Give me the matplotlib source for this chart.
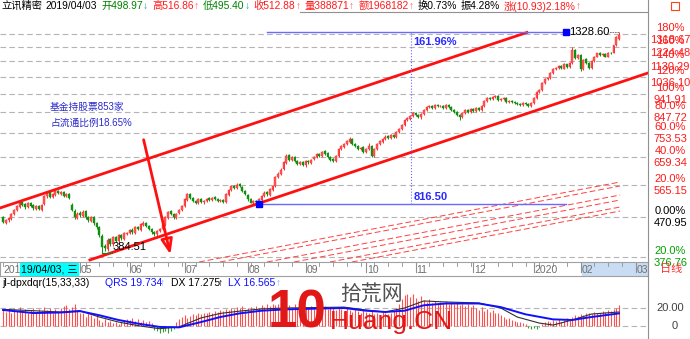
import numpy as np
import matplotlib
matplotlib.use('Agg')
import matplotlib.pyplot as plt

plt.rcParams['font.family'] = ['Liberation Sans', 'Noto Sans CJK SC', 'DejaVu Sans']

# daily candles, 2019-03 .. 2020-02 (index = trading day)
opens = [
    470, 456, 462, 466, 478, 491, 498.97, 511, 506, 497,
    509, 503, 494, 501, 491, 506, 529, 541, 527, 534,
    546, 537, 543, 529, 536, 505, 488, 468, 482, 474,
    486, 471, 461, 471, 456, 446, 424, 400, 393, 416,
    404, 421, 411, 426, 417, 429, 431, 439, 431, 446,
    439, 451, 456, 447, 441, 433, 427, 436, 441, 451,
    469, 486, 479, 469, 481, 489, 501, 519, 536, 524,
    516, 509, 521, 511, 514, 523, 517, 526, 521, 514,
    519, 513, 534, 549, 561, 554, 566, 559, 546, 534,
    521, 509, 514, 511, 519, 529, 541, 534, 549, 561,
    589, 601, 616, 639, 666, 649, 661, 646, 634, 641,
    629, 646, 639, 651, 659, 671, 664, 681, 673, 661,
    651, 644, 664, 691, 699, 711, 719, 731, 711, 701,
    689, 696, 679, 689, 701, 664, 689, 711, 719, 731,
    741, 734, 746, 739, 759, 771, 789, 811, 819, 831,
    846, 836, 824, 839, 859, 874, 881, 869, 886, 879,
    881, 869, 886, 876, 861, 851, 836, 826, 844, 861,
    849, 866, 854, 871, 859, 879, 904, 921, 914, 924,
    931, 909, 914, 921, 899, 906, 901, 896, 891, 884,
    896, 891, 879, 894, 919, 951, 959, 999, 1021, 1029,
    1059, 1079, 1089, 1101, 1084, 1111, 1094, 1119, 1201, 1149,
    1169, 1079, 1141, 1121, 1089, 1129, 1159, 1181, 1169, 1176,
    1159, 1186, 1185, 1240, 1280]
closes = [
    458, 463, 468, 478, 490, 500, 512.88, 505, 498, 510,
    502, 495, 500, 492, 505, 530, 540, 528, 535, 545,
    538, 542, 530, 535, 525, 490, 470, 480, 475, 485,
    470, 462, 470, 455, 445, 425, 398, 395, 415, 405,
    420, 412, 425, 418, 430, 430, 438, 432, 445, 440,
    452, 455, 448, 440, 432, 428, 435, 440, 450, 470,
    485, 478, 470, 480, 490, 500, 520, 535, 525, 515,
    510, 520, 512, 515, 522, 518, 525, 520, 515, 518,
    512, 535, 548, 560, 555, 565, 560, 545, 535, 520,
    510, 515, 512, 520, 530, 540, 535, 550, 560, 590,
    600, 615, 640, 665, 650, 660, 645, 635, 640, 630,
    645, 640, 650, 660, 670, 665, 680, 672, 660, 650,
    645, 665, 690, 700, 710, 720, 730, 710, 700, 690,
    695, 680, 690, 700, 665, 690, 710, 720, 730, 740,
    735, 745, 740, 760, 770, 790, 810, 820, 830, 845,
    835, 825, 840, 860, 875, 880, 870, 885, 880, 880,
    870, 885, 875, 860, 850, 835, 825, 845, 860, 850,
    865, 855, 870, 860, 880, 905, 920, 915, 925, 930,
    910, 915, 920, 900, 905, 900, 895, 890, 885, 895,
    890, 880, 895, 920, 950, 960, 1000, 1020, 1030, 1060,
    1080, 1090, 1100, 1085, 1110, 1095, 1120, 1200, 1150, 1170,
    1080, 1140, 1120, 1090, 1130, 1160, 1180, 1170, 1175, 1160,
    1185, 1180, 1235, 1295, 1310]
highs = [
    474, 466, 471, 481, 493, 504, 516.86, 515, 509, 513,
    512, 506, 503, 504, 508, 533, 545, 544, 538, 549,
    549, 546, 546, 538, 539, 510, 492, 484, 486, 489,
    489, 474, 473, 474, 459, 449, 427, 405, 418, 419,
    423, 424, 428, 429, 433, 434, 441, 442, 448, 449,
    455, 460, 459, 450, 444, 436, 438, 443, 453, 473,
    488, 490, 482, 483, 493, 503, 523, 540, 539, 527,
    519, 523, 524, 518, 525, 526, 528, 529, 524, 521,
    522, 538, 551, 564, 565, 569, 570, 562, 549, 537,
    524, 519, 517, 523, 533, 544, 545, 553, 564, 594,
    605, 620, 644, 670, 671, 664, 665, 649, 644, 645,
    649, 650, 654, 664, 674, 676, 684, 685, 677, 664,
    655, 668, 694, 705, 715, 725, 737, 734, 715, 705,
    699, 700, 694, 712, 704, 694, 714, 724, 734, 745,
    745, 749, 750, 764, 775, 795, 815, 826, 836, 850,
    851, 840, 845, 865, 880, 886, 886, 890, 890, 885,
    886, 890, 890, 880, 865, 855, 840, 850, 865, 865,
    870, 870, 875, 876, 885, 910, 925, 926, 930, 936,
    936, 920, 925, 926, 910, 911, 906, 900, 896, 900,
    901, 896, 900, 925, 955, 966, 1005, 1026, 1036, 1066,
    1086, 1096, 1106, 1108, 1116, 1115, 1126, 1225, 1210, 1176,
    1175, 1146, 1150, 1126, 1136, 1166, 1186, 1188, 1180, 1182,
    1190, 1192, 1240, 1300, 1328.60]
lows = [
    455, 452, 459, 464, 475, 488, 495.40, 501, 494, 495,
    499, 491, 491, 489, 488, 503, 525, 524, 523, 531,
    535, 534, 526, 526, 522, 486, 466, 465, 471, 471,
    467, 458, 458, 451, 441, 421, 384.51, 390, 390, 401,
    401, 409, 408, 415, 414, 425, 428, 429, 428, 437,
    436, 448, 445, 437, 429, 424, 424, 433, 438, 449,
    466, 475, 467, 466, 478, 487, 499, 516, 522, 512,
    507, 506, 509, 508, 511, 515, 514, 517, 512, 511,
    509, 510, 531, 546, 551, 551, 557, 542, 532, 516,
    509, 508, 509, 507.27, 516, 526, 531, 531, 546, 558,
    585, 597, 612, 635, 646, 645, 641, 631, 630, 626,
    625, 636, 635, 647, 655, 661, 660, 668, 656, 646,
    640, 640, 660, 686, 695, 707, 715, 706, 696, 686,
    685, 676, 675, 685, 658, 660, 685, 706, 715, 726,
    730, 730, 735, 735, 755, 767, 785, 806, 814, 826,
    830, 820, 819, 835, 855, 869, 865, 865, 875, 874,
    865, 864, 870, 855, 845, 830, 812, 820, 840, 845,
    845, 850, 850, 855, 855, 875, 900, 910, 910, 920,
    905, 905, 910, 895, 894, 895, 890, 885, 878, 880,
    885, 875, 874, 890, 915, 945, 955, 995, 1015, 1024,
    1054, 1074, 1084, 1080, 1079, 1090, 1089, 1115, 1145, 1144,
    1070, 1075, 1115, 1080, 1084, 1124, 1154, 1164, 1162, 1155,
    1154, 1175, 1180, 1230, 1275]

# right axis ticks: percent vs base price, and price
base_price = 470.95
tick_prices = [1318.67, 1224.48, 1130.29, 1036.10, 941.91, 847.72, 753.53, 659.34, 565.15, 470.95, 376.76]
tick_pcts = ['180%', '160%', '140%', '120%', '100%', '80.0%', '60.0%', '40.0%', '20.0%', '0.00%', '20.0%']

month_idx = [28, 46, 66, 89, 110, 132, 150, 171, 193, 210, 230]
month_lbl = ['05', '06', '07', '08', '09', '10', '11', '12', '2020', '02', '03']

# indicator jl-dpxdqr
bars = [
    18, 16, 20, 14, 19, 17, 21, 17, 19, 15,
    18, 20, 16, 19, 17, 21, 18, 20, 15, 19,
    17, 20, 22, 23, 19, 21, 24, 18, 15, 14,
    10, 16, 12, 9, 13, 7, 5, 8, 4, 6,
    3, 5, 2, 4, 6, 8, 7, 9, 6, 8,
    5, 7, 4, 6, 3, -4, -6, -8, -7, -5,
    -8, -6, -3, 5, 8, 10, 12, 9, 11, 13,
    12, 14, 13, 15, 14, 16, 15, 17, 16, 18,
    17, 19, 18, 20, 19, 21, 20, 22, 18, 20,
    21, 19, 22, 20, 23, 21, 24, 22, 25, 23,
    24, 26, 22, 25, 23, 21, 24, 20, 22, 19,
    21, 20, 22, 19, 21, 18, 20, 22, 19, 21,
    20, 18, 21, 19, 17, 20, 18, 16, 19, 17,
    15, 18, 16, 14, 17, 13, 15, 12, 16, 14,
    13, 15, 17, 20, 25, 30, 34, 36, 32, 35,
    31, 28, 33, 29, 27, 30, 26, 28, 25, 27,
    26, 28, 24, 27, 25, 26, 23, 25, 22, 24,
    21, 23, 20, 18, 21, 17, 19, 16, 18, 15,
    14, 12, 10, 8, 9, 7, 6, 4, 5, 3,
    2, -2, -3, -2, -3, -1, 2, 4, 6, 5,
    7, 6, 8, 5, 7, 9, 8, 10, 12, 11,
    13, 12, 14, 15, 13, 16, 14, 15, 17, 16,
    18, 17, 19, 20, 23]
qrs_idx = [0, 11, 21, 28, 35, 42, 50, 57, 64, 72, 79, 86, 94, 103, 124, 132, 139, 146, 153, 161, 173, 181, 190, 200, 207, 214, 224]
qrs = [17.8, 14.4, 15.0, 16.5, 12.0, 6.7, 2.2, -1.0, -1.5, 4.4, 10.0, 14.0, 17.0, 18.5, 20.0, 17.0, 15.6, 17.0, 23.0, 25.0, 25.0, 21.0, 13.0, 7.4, 6.7, 10.0, 14.0]
dx_idx = [0, 11, 21, 28, 35, 42, 50, 57, 64, 72, 79, 86, 94, 103, 124, 132, 139, 146, 153, 161, 173, 181, 187, 195, 200, 207, 214, 224]
dx = [18.5, 17.0, 15.5, 17.0, 10.0, 4.4, 0.0, -3.0, -1.0, 9.0, 14.0, 16.5, 19.0, 20.0, 21.0, 17.8, 15.6, 20.0, 27.8, 26.7, 25.6, 20.0, 10.0, 3.3, 1.1, 6.7, 13.3, 15.6]

# drawn trend lines (day index, price)
upper_chan = [(-1.1, 495.4), (190.5, 1327.7)]
lower_chan = [(31.6, 370.0), (234.5, 1057.4)]
thin_chan = [[(71.3, 365.8), (224.4, 573.3)], [(78.9, 365.8), (224.4, 560.6)],
             [(96.0, 365.8), (224.4, 532.9)], [(105.8, 365.8), (224.4, 518.1)],
             [(118.9, 365.8), (224.4, 498.2)], [(126.9, 365.8), (224.4, 487.1)]]

W, H = 690, 339
def rect(x0, y0, x1, y1):
    return [x0 / W, 1 - y1 / H, (x1 - x0) / W, (y1 - y0) / H]

XL = (-3 / 2.75, 645 / 2.75)
fig = plt.figure(figsize=(6.9, 3.39), dpi=100)
renderer = fig.canvas.get_renderer()

# ---------- main price panel ----------
ax = fig.add_axes(rect(0, 14, 648, 262))
ax.set_yscale('log')
ax.set_xlim(*XL)
ax.set_ylim(365.8, 1473)
ax.yaxis.set_major_locator(plt.NullLocator())
ax.yaxis.set_minor_locator(plt.NullLocator())
ax.set_xticks([])
for s in ax.spines.values():
    s.set_visible(False)

for p in tick_prices:
    ax.axhline(p, color='#b4b4b4', lw=0.8, ls=(0, (5, 3)), zorder=0)

o, c, hi, lo = map(np.array, (opens, closes, highs, lows))
x = np.arange(len(c))
up = c >= o
ax.vlines(x[up], lo[up], hi[up], color='#ff3030', lw=0.7, zorder=2)
ax.vlines(x[~up], lo[~up], hi[~up], color='#109010', lw=0.7, zorder=2)
ax.bar(x[up], c[up] - o[up], bottom=o[up], width=0.6, color='#ff5a5a', edgecolor='#ff2a2a', lw=0.3, zorder=3)
ax.bar(x[~up], o[~up] - c[~up], bottom=c[~up], width=0.6, color='#109010', edgecolor='#109010', lw=0.3, zorder=3)

for ln in (upper_chan, lower_chan):
    ax.plot([p[0] for p in ln], [p[1] for p in ln], color='#ff1010', lw=2, zorder=4)
for ln in thin_chan:
    ax.plot([p[0] for p in ln], [p[1] for p in ln], color='#ff4040', lw=0.7, ls=(0, (6, 3)), zorder=1)

# red arrow
ax.annotate('', xy=(61.1, 376), xytext=(50.9, 738),
            arrowprops=dict(arrowstyle='-|>,head_length=0.9,head_width=0.35', color='#ff1010', lw=2, fill=False),
            zorder=5)

# measurement: low 507.27 -> high 1328.60
i_lo = lows.index(507.27)
ax.plot([i_lo, 204.7], [507.27, 507.27], color='#6a6aff', lw=1, zorder=5)
ax.plot([96, 204.7], [1328.60, 1328.60], color='#6a6aff', lw=1, zorder=5)
ax.plot([148.4, 148.4], [507.27, 1328.60], color='#6a6aff', lw=0.8, ls=':', zorder=5)
ax.plot([i_lo], [507.27], 's', color='#0000ff', ms=4, zorder=6)
ax.plot([204.7], [1328.60], 's', color='#0000ff', ms=4, zorder=6)
ax.text(149.2, 1328.60 * 0.975, '161.96%', color='#2a2aff', fontsize=8, fontweight='bold', va='top', ha='left', zorder=6)
ax.text(149.2, 507.27 * 1.01, '816.50', color='#2a2aff', fontsize=8, fontweight='bold', va='bottom', ha='left', zorder=6)
ax.text(206, 1328.60, '1328.60', color='black', fontsize=8, va='center', ha='left', zorder=6)
ax.plot([219.5, 222.5, 224], [1328.60, 1328.60, 1328.60], color='#606060', lw=0.6, ls=(0, (2, 1)), zorder=6)

# low marker
i_min = lows.index(384.51)
ax.plot([i_min, i_min + 3.8], [384.51, 384.51], color='#208020', lw=0.8, zorder=6)
ax.text(i_min + 4, 384.51 * 1.005, '384.51', color='black', fontsize=8, va='bottom', ha='left', zorder=6)

fig.text(50 / W, 1 - 107 / H, '基金持股票853家', color='#2a2acc', fontsize=7, va='center', ha='left')
fig.text(50 / W, 1 - 123 / H, '占流通比例18.65%', color='#2a2acc', fontsize=7, va='center', ha='left')

# right labels
for p, pct in zip(tick_prices, tick_pcts):
    col = 'black' if p == base_price else ('#00a000' if p < base_price else '#ff1a1a')
    ax.annotate(pct, xy=(1.0, p), xycoords=('axes fraction', 'data'), xytext=(16, 4.3),
                textcoords='offset points', ha='center', va='center', fontsize=8, color=col, annotation_clip=False)
    ax.annotate(f'{p:.2f}', xy=(1.0, p), xycoords=('axes fraction', 'data'), xytext=(16, -4.3),
                textcoords='offset points', ha='center', va='center', fontsize=8, color=col, annotation_clip=False)

# ---------- title bar (pieces chained left to right) ----------
title_groups = [
    [('立讯精密', 'black')],
    [('2019/04/03', 'black')],
    [('开498.97', '#008000'), ('↓', '#20a0a0')],
    [('高516.86', '#ff1a1a'), ('↑', '#ff6060')],
    [('低495.40', '#008000'), ('↓', '#20a0a0')],
    [('收512.88', '#ff1a1a'), ('↑', '#ff6060')],
    [('量388871', '#ff1a1a'), ('↑', '#ff6060')],
    [('额1968182', '#ff1a1a'), ('↑', '#ff6060')],
    [('换0.73%', 'black')],
    [('振4.28%', 'black')],
    [('涨(10.93)2.18%', '#ff1a1a'), ('↑', '#ff6060')],
]
cur = 1
for parts in title_groups:
    for t, col in parts:
        tx = fig.text(cur / W, 1 - 6 / H, t, color=col, fontsize=7.4, va='center', ha='left')
        cur = tx.get_window_extent(renderer).x1
    cur += 4
fig.add_artist(plt.Line2D([300 / W, 648 / W], [1 - 12 / H, 1 - 12 / H], color='#909090', lw=0.8))
fig.add_artist(plt.Rectangle((671 / W, 1 - 10 / H), 8 / W, 8 / H, fill=False, edgecolor='#ff4020', lw=0.8))

# ---------- date strip ----------
axd = fig.add_axes(rect(0, 262, 648, 276))
axd.set_xlim(*XL)
axd.set_ylim(0, 1)
axd.set_xticks([])
axd.set_yticks([])
for s in axd.spines.values():
    s.set_color('#a0a0a0')
    s.set_linewidth(0.8)
axd.axvspan(210.5, XL[1], color='#c8dcf4', zorder=0)
for k in range(0, 235, 5):
    axd.plot([k, k], [1, 0.75], color='#909090', lw=0.6)
for mi, ml in zip(month_idx, month_lbl):
    axd.plot([mi, mi], [1, 0.3], color='#909090', lw=0.8)
    axd.text(mi + 0.4, 0.42, ml, color='#707070', fontsize=7.5, va='center', ha='left')
axd.text(0, 0.42, '2019', color='#707070', fontsize=7.5, va='center', ha='left')
fig.add_artist(plt.Rectangle((20 / W, 1 - 275 / H), 58 / W, 12 / H, color='#00ffff', zorder=5))
fig.text(21 / W, 1 - 269 / H, '19/04/03, 三', color='black', fontsize=7.5, va='center', ha='left', zorder=6)
fig.text(660 / W, 1 - 269 / H, '日线', color='#ff3030', fontsize=8, va='center', ha='left')

# ---------- indicator panel ----------
axi = fig.add_axes(rect(0, 289, 648, 339))
axi.set_xlim(*XL)
axi.set_ylim(-14.4, 41.1)
axi.set_xticks([])
axi.set_yticks([])
for s in axi.spines.values():
    s.set_visible(False)
for g in (0, 20):
    axi.axhline(g, color='#b4b4b4', lw=0.8, ls=(0, (5, 3)), zorder=0)
b = np.array(bars)
axi.vlines(x[b >= 0], 0, b[b >= 0], color='#ff5050', lw=0.8)
axi.vlines(x[b < 0], 0, b[b < 0], color='#30a030', lw=0.8)
axi.plot(dx_idx, dx, color='#303030', lw=0.8)
axi.plot(qrs_idx, qrs, color='#1010ff', lw=1.4)
axi.annotate('20.00', xy=(1.0, 20), xycoords=('axes fraction', 'data'), xytext=(16, 0), textcoords='offset points',
             ha='center', va='center', fontsize=8, color='#404040', annotation_clip=False)
axi.annotate('0', xy=(1.0, 0), xycoords=('axes fraction', 'data'), xytext=(19, 0), textcoords='offset points',
             ha='center', va='center', fontsize=8, color='#404040', annotation_clip=False)

ind_parts = [(2, 'jl-dpxdqr(15,33,33)', 'black'), (105, 'QRS 19.734', '#1010ff'), (160, '↑', '#80b0ff'),
             (171, 'DX 17.275', 'black'), (218, '↑', 'black'), (228, 'LX 16.565', '#1010ff'), (276, '↑', '#80b0ff')]
for xp, t, col in ind_parts:
    fig.text(xp / W, 1 - 283 / H, t, color=col, fontsize=7.5, va='center', ha='left')

# watermark
fig.text(268 / W, 1 - 313 / H, '10', color='#e01818', fontsize=38, fontweight='bold', va='center', ha='left', zorder=10)
fig.text(340 / W, 1 - 294 / H, '拾荒网', color='#505050', fontsize=15, va='center', ha='left', zorder=10)
fig.text(330 / W, 1 - 322 / H, 'Huang.CN', color='#e01818', fontsize=19, va='center', ha='left', zorder=11)

fig.add_artist(plt.Line2D([648 / W, 648 / W], [0, 1], color='#909090', lw=0.8))
fig.savefig('out.png', dpi=100, facecolor='white')
